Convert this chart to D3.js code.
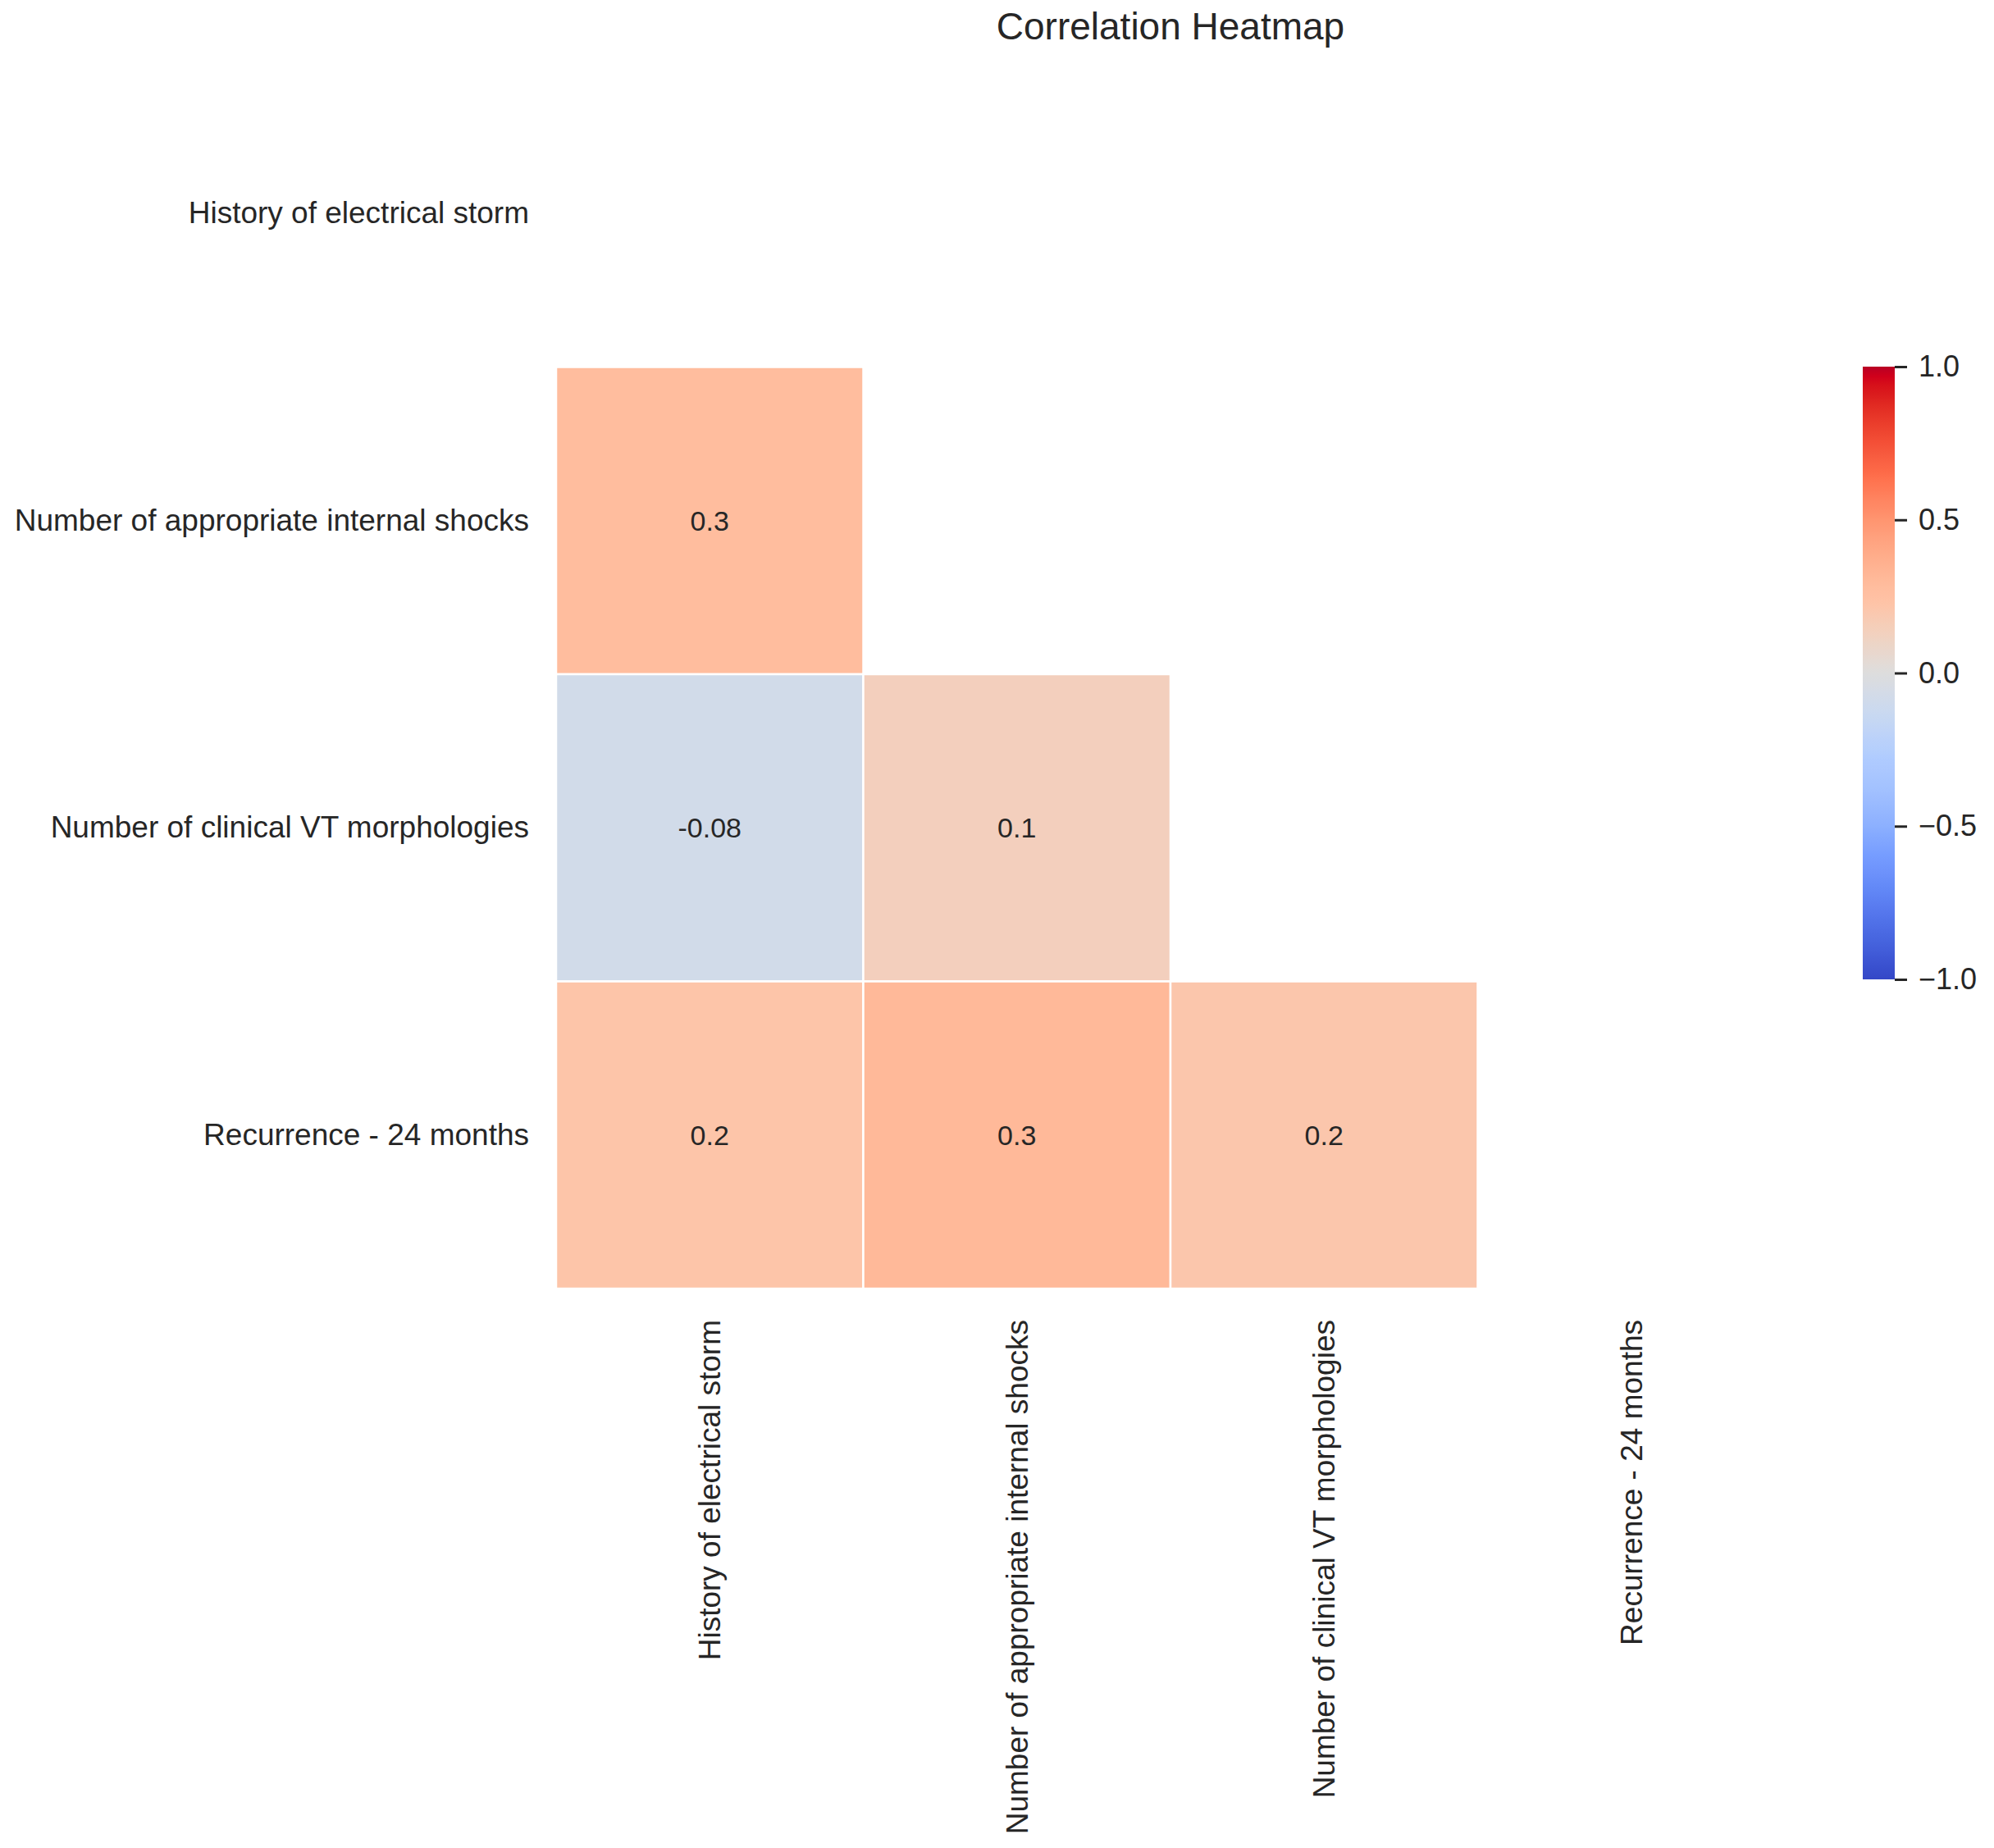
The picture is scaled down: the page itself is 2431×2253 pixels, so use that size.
<!DOCTYPE html>
<html>
<head>
<meta charset="utf-8">
<script src="https://cdn.jsdelivr.net/npm/d3@7"></script>
<style>
  html, body { margin: 0; padding: 0; background: #fff; }
  text { font-family: "Liberation Sans", Arial, sans-serif; }
</style>
</head>
<body>
<div id="chart"></div>
<script>
// variables of the correlation matrix (rows and columns share the order)
const variables = [
    "History of electrical storm",
    "Number of appropriate internal shocks",
    "Number of clinical VT morphologies",
    "Recurrence - 24 months"
];

// lower triangle only, the diagonal and upper part are masked (null)
const corrRow0 = [null, null, null, null];
const corrRow1 = [0.28, null, null, null];
const corrRow2 = [-0.08, 0.14, null, null];
const corrRow3 = [0.22, 0.31, 0.21, null];
const corrRows = [corrRow0, corrRow1, corrRow2, corrRow3];

const colorbarTicks = [-1, -0.5, 0, 0.5, 1];
const chartTitle = "Correlation Heatmap";

// matplotlib "coolwarm" control points (33 stops, 0..1)
const coolwarmR = [0.2298, 0.2662, 0.3039, 0.3428, 0.3830, 0.4244, 0.4667, 0.5096, 0.5530, 0.5963, 0.6392, 0.6813, 0.7222, 0.7615, 0.7987, 0.8335, 0.8654, 0.8978, 0.9241, 0.9445, 0.9589, 0.9673, 0.9700, 0.9668, 0.9580, 0.9437, 0.9239, 0.8990, 0.8692, 0.8346, 0.7956, 0.7525, 0.7057];
const coolwarmG = [0.2987, 0.3531, 0.4065, 0.4588, 0.5094, 0.5581, 0.6046, 0.6483, 0.6889, 0.7261, 0.7596, 0.7890, 0.8140, 0.8343, 0.8498, 0.8602, 0.8654, 0.8489, 0.8274, 0.8009, 0.7698, 0.7341, 0.6943, 0.6504, 0.6028, 0.5518, 0.4973, 0.4396, 0.3783, 0.3129, 0.2413, 0.1572, 0.0156];
const coolwarmB = [0.7537, 0.8015, 0.8450, 0.8837, 0.9174, 0.9456, 0.9682, 0.9848, 0.9954, 0.9998, 0.9982, 0.9904, 0.9766, 0.9569, 0.9317, 0.9011, 0.8654, 0.8209, 0.7745, 0.7267, 0.6780, 0.6288, 0.5794, 0.5303, 0.4818, 0.4342, 0.3880, 0.3432, 0.3003, 0.2593, 0.2205, 0.1841, 0.1502];

const W = 2431, H = 2253;
const grid = { left: 678, top: 73, size: 1498 };
const cbar = { x: 2271, width: 39, top: 447, bottom: 1194 };
const INK = "#262626";

const coolwarmStops = coolwarmR.map((r, i) => d3.rgb(r * 255, coolwarmG[i] * 255, coolwarmB[i] * 255));
const coolwarmInterp = d3.piecewise(d3.interpolateRgb, coolwarmStops);
// the picture's reds look more saturated than stock coolwarm
const coolwarm = t => {
    t = Math.max(0, Math.min(1, t));
    const c = d3.hsl(coolwarmInterp(t));
    c.s = Math.min(1, c.s * (t >= 0.5 ? 1.3 : 1.1));
    return c.formatHex();
};
const color = v => coolwarm((v + 1) / 2);

const fmtAnnot = d3.formatLocale({ decimal: ".", thousands: ",", grouping: [3], currency: ["", ""], minus: "-" }).format(".1g");

const svg = d3.select("#chart").append("svg")
    .attr("width", W).attr("height", H)
    .attr("viewBox", [0, 0, W, H]);

const x = d3.scaleBand().domain(variables).range([grid.left, grid.left + grid.size]);
const y = d3.scaleBand().domain(variables).range([grid.top, grid.top + grid.size]);

const cells = [];
corrRows.forEach((row, i) => row.forEach((v, j) => {
    if (v !== null) cells.push({ row: variables[i], col: variables[j], value: v });
}));

svg.append("g")
    .selectAll("rect")
    .data(cells)
    .join("rect")
    .attr("x", d => x(d.col))
    .attr("y", d => y(d.row))
    .attr("width", x.bandwidth())
    .attr("height", y.bandwidth())
    .attr("fill", d => color(d.value))
    .attr("stroke", "#fff")
    .attr("stroke-width", 2.5);

svg.append("g")
    .selectAll("text")
    .data(cells)
    .join("text")
    .attr("x", d => x(d.col) + x.bandwidth() / 2)
    .attr("y", d => y(d.row) + y.bandwidth() / 2)
    .attr("text-anchor", "middle")
    .attr("dominant-baseline", "central")
    .attr("font-size", 34)
    .attr("fill", INK)
    .text(d => fmtAnnot(d.value));

// row labels
svg.append("g")
    .attr("transform", `translate(${grid.left},0)`)
    .call(d3.axisLeft(y).tickSize(0).tickPadding(33))
    .call(g => g.select(".domain").remove())
    .call(g => g.selectAll("text").attr("font-size", 37).attr("fill", INK).attr("font-family", null));

// column labels, rotated
svg.append("g")
    .attr("transform", `translate(0,${grid.top + grid.size})`)
    .call(d3.axisBottom(x).tickSize(0))
    .call(g => g.select(".domain").remove())
    .call(g => g.selectAll("text")
        .attr("font-size", 37).attr("fill", INK).attr("font-family", null)
        .attr("transform", "rotate(-90)")
        .attr("x", -38).attr("y", 0).attr("dy", "0.35em")
        .attr("text-anchor", "end"));

// colorbar
const defs = svg.append("defs");
const grad = defs.append("linearGradient")
    .attr("id", "cbar-grad")
    .attr("x1", 0).attr("y1", 1).attr("x2", 0).attr("y2", 0);
grad.selectAll("stop")
    .data(d3.range(0, 1.0001, 1 / 64))
    .join("stop")
    .attr("offset", d => d)
    .attr("stop-color", d => coolwarm(d));

svg.append("rect")
    .attr("x", cbar.x).attr("y", cbar.top)
    .attr("width", cbar.width).attr("height", cbar.bottom - cbar.top)
    .attr("fill", "url(#cbar-grad)");

const cScale = d3.scaleLinear().domain([-1, 1]).range([cbar.bottom, cbar.top]);
svg.append("g")
    .attr("transform", `translate(${cbar.x + cbar.width},0)`)
    .call(d3.axisRight(cScale).tickValues(colorbarTicks).tickSize(15).tickPadding(14).tickFormat(d3.format(".1f")))
    .call(g => g.select(".domain").remove())
    .call(g => g.selectAll("line").attr("stroke", INK).attr("stroke-width", 3))
    .call(g => g.selectAll("text").attr("font-size", 36).attr("fill", INK).attr("font-family", null));

svg.append("text")
    .attr("x", grid.left + grid.size / 2)
    .attr("y", 48)
    .attr("text-anchor", "middle")
    .attr("font-size", 46)
    .attr("fill", INK)
    .text(chartTitle);
</script>
</body>
</html>
